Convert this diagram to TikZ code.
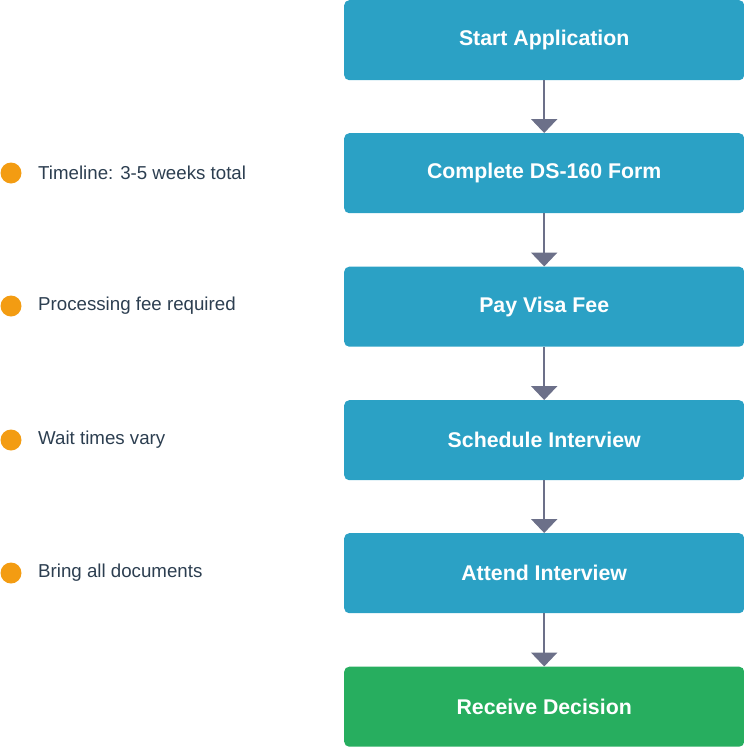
\documentclass[tikz,border=0pt]{standalone}
\usepackage{fontspec}
\setmainfont{Liberation Sans}
\usetikzlibrary{arrows.meta}
\definecolor{stepblue}{HTML}{2BA1C5}
\definecolor{stepgreen}{HTML}{27AE5F}
\definecolor{arrowgray}{HTML}{6C7089}
\definecolor{notedot}{HTML}{F39C12}
\definecolor{notetext}{HTML}{2C3E50}
\tikzset{
  stage/.style={rounded corners=5pt, fill=stepblue, minimum width=400pt, minimum height=80pt,
    text=white, font=\fontsize{21.3}{25}\selectfont\bfseries, anchor=north west},
  flow/.style={-{Triangle[width=26pt,length=14pt]}, arrowgray, line width=2.5pt},
  dot/.style={circle, fill=notedot, minimum size=21pt, inner sep=0pt},
  note/.style={anchor=west, text=notetext, font=\fontsize{18.7}{22}\selectfont, inner sep=0pt}
}
\begin{document}
\begin{tikzpicture}[x=1pt, y=-1pt]
        \useasboundingbox (0,0) rectangle (744,747);
        \node[stage] (start) at (344,0) {Start Application};
        \node[stage] (form) at (344,133) {Complete DS-160 Form};
        \node[stage] (fee) at (344,266.5) {Pay Visa Fee};
        \node[stage] (sched) at (344,400) {Schedule Interview};
        \node[stage] (attend) at (344,533) {Attend Interview};
        \node[stage, fill=stepgreen] (decide) at (344,666.5) {Receive Decision};
        \draw[flow] (start) -- (form);
        \draw[flow] (form) -- (fee);
        \draw[flow] (fee) -- (sched);
        \draw[flow] (sched) -- (attend);
        \draw[flow] (attend) -- (decide);
        % side notes
        \node[dot] (d1) at (11,173) {};
        \node[note] (n1) at (38,173) {Timeline: 3-5 weeks total};
        \node[dot] (d2) at (11,306) {};
        \node[note] (n2) at (38,306) {Processing fee required};
        \node[dot] (d3) at (11,440) {};
        \node[note] (n3) at (38,440) {Wait times vary};
        \node[dot] (d4) at (11,573) {};
        \node[note] (n4) at (38,573) {Bring all documents};
      \end{tikzpicture}
\end{document}
